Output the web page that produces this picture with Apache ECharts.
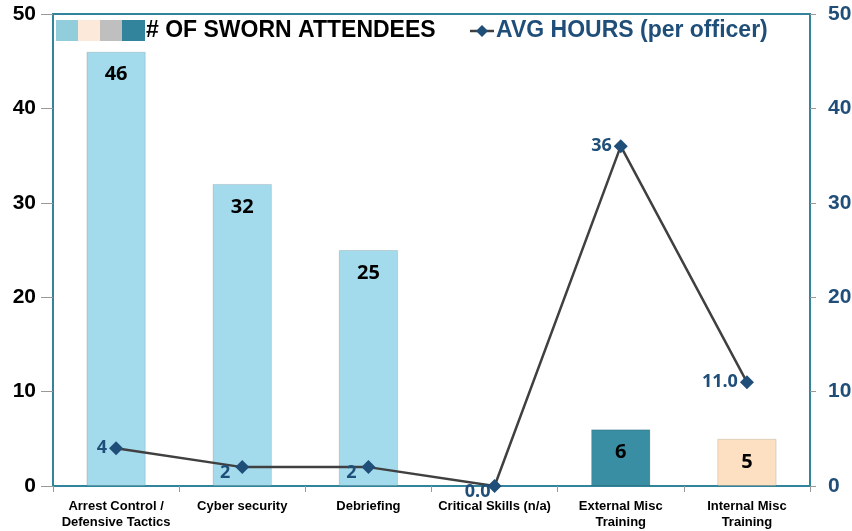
<!DOCTYPE html>
<html>
<head>
    <meta charset="utf-8">
    <title></title>
    <script src="https://cdn.jsdelivr.net/npm/echarts@6.0.0/dist/echarts.min.js"></script>
</head>
<body style="margin:0;background:#fff;">
<div id="main" style="width:852px;height:531px;"></div>
<script type="text/javascript">
    // categories on the x axis
    var categories = ['Arrest Control /\nDefensive Tactics', 'Cyber security', 'Debriefing',
        'Critical Skills (n/a)', 'External Misc\nTraining', 'Internal Misc\nTraining'];
    // # of sworn attendees (bars)
    var attendees = [46, 32, 25, null, 6, 5];
    var barColors = ['#a3dbed', '#a3dbed', '#a3dbed', '#a3dbed', '#3a8ea3', '#fde0c2'];
    // avg hours per officer (line)
    var avgHours = [4, 2, 2, 0, 36, 11];
    var hourLabels = ['4', '2', '2', '0.0', '36', '11.0'];
    var hourLabelPos = ['left', 'bottom', 'bottom', 'bottom', 'left', 'left'];

    var teal = '#31849b';
    var navy = '#1f4e79';
    var narrow = '"Liberation Sans Narrow", "Liberation Sans", Arial, sans-serif';

    var barData = attendees.map(function (v, i) {
        return { value: v, itemStyle: { color: barColors[i] } };
    });
    var lineData = avgHours.map(function (v, i) {
        var lab = { show: true, formatter: hourLabels[i], position: hourLabelPos[i] };
        if (hourLabelPos[i] === 'bottom') {
            lab.offset = [-17, -12];
        }
        return { value: v, label: lab };
    });

    var myChart = echarts.init(document.getElementById('main'));
    myChart.setOption({
        animation: false,
        grid: {
            left: 53, right: 42, top: 14, bottom: 45,
            outerBoundsMode: 'none', containLabel: false,
            show: true, borderColor: teal, borderWidth: 2, backgroundColor: '#fff'
        },
        graphic: [
            { type: 'rect', shape: { x: 56, y: 20, width: 22, height: 21 }, style: { fill: '#92cddc' } },
            { type: 'rect', shape: { x: 78, y: 20, width: 22, height: 21 }, style: { fill: '#fde9d9' } },
            { type: 'rect', shape: { x: 100, y: 20, width: 22, height: 21 }, style: { fill: '#bfbfbf' } },
            { type: 'rect', shape: { x: 122, y: 20, width: 23, height: 21 }, style: { fill: '#31849b' } },
            {
                type: 'text', x: 146, y: 31,
                style: {
                    text: '# OF SWORN ATTENDEES', fill: '#000', fontSize: 23, fontWeight: 'bold',
                    fontFamily: narrow, verticalAlign: 'middle'
                }
            },
            { type: 'line', shape: { x1: 470, y1: 31, x2: 494, y2: 31 }, style: { stroke: '#404040', lineWidth: 2.5 } },
            {
                type: 'polygon', shape: { points: [[482, 25], [488, 31], [482, 37], [476, 31]] },
                style: { fill: navy }
            },
            {
                type: 'text', x: 496, y: 31,
                style: {
                    text: 'AVG HOURS (per officer)', fill: navy, fontSize: 23, fontWeight: 'bold',
                    fontFamily: narrow, verticalAlign: 'middle'
                }
            }
        ],
        xAxis: {
            type: 'category',
            data: categories,
            axisLine: { lineStyle: { color: teal, width: 2 } },
            axisTick: { show: true, length: 6, lineStyle: { color: '#999' } },
            axisLabel: {
                color: '#000', fontWeight: 'bold', fontSize: 13, fontFamily: narrow,
                lineHeight: 16, margin: 12, interval: 0
            }
        },
        yAxis: [
            {
                type: 'value', min: 0, max: 50, interval: 10,
                axisLine: { show: true, lineStyle: { color: teal, width: 2 } },
                axisTick: { show: true, length: 12, lineStyle: { color: '#999' } },
                splitLine: { show: false },
                axisLabel: { color: '#000', fontWeight: 'bold', fontSize: 21, fontFamily: 'Liberation Sans, Arial', margin: 17 }
            },
            {
                type: 'value', min: 0, max: 50, interval: 10,
                axisLine: { show: true, lineStyle: { color: teal, width: 2 } },
                axisTick: { show: true, inside: false, length: 6, lineStyle: { color: '#999' } },
                splitLine: { show: false },
                axisLabel: { color: navy, fontWeight: 'bold', fontSize: 21, fontFamily: 'Liberation Sans, Arial', margin: 18 }
            }
        ],
        series: [
            {
                name: '# OF SWORN ATTENDEES',
                type: 'bar',
                barWidth: '47%',
                data: barData,
                itemStyle: { borderColor: 'rgba(0,0,0,0.12)', borderWidth: 1 },
                label: {
                    show: true, position: 'insideTop', distance: 13,
                    color: '#000', fontWeight: 'bold', fontSize: 20, fontFamily: '"Open Sans", sans-serif'
                }
            },
            {
                name: 'AVG HOURS (per officer)',
                type: 'line',
                yAxisIndex: 1,
                data: lineData,
                symbol: 'diamond',
                symbolSize: 14,
                lineStyle: { color: '#404040', width: 2.5 },
                itemStyle: { color: navy },
                label: {
                    color: navy, fontWeight: 'bold', fontSize: 18, fontFamily: '"Open Sans", sans-serif',
                    distance: 2
                },
                z: 5
            }
        ]
    });
</script>
</body>
</html>
